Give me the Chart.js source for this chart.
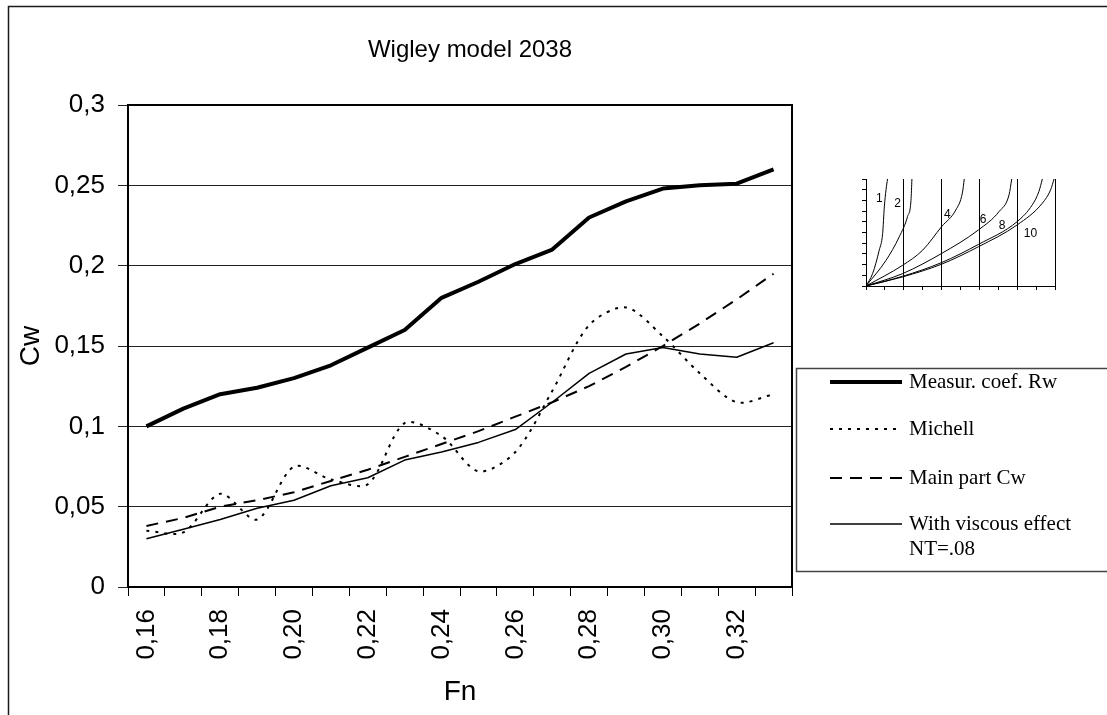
<!DOCTYPE html>
<html>
<head>
<meta charset="utf-8">
<title>Wigley model 2038</title>
<script src="https://cdn.jsdelivr.net/npm/chart.js@4.4.1/dist/chart.umd.min.js"></script>
<style>
  html, body { margin: 0; padding: 0; background: #fff; }
  #wrap { position: relative; width: 1107px; height: 715px; overflow: hidden; }
  #main { position: absolute; left: 0; top: 0; }
  #inset { position: absolute; left: 856px; top: 173px; }
</style>
</head>
<body>
<div id="wrap">
  <canvas id="main" width="1107" height="715"></canvas>
  <canvas id="inset" width="215" height="123"></canvas>
</div>
<script>
(() => {
  "use strict";

  /* ---------- data ---------- */
  const FN = ["0,16", "0,17", "0,18", "0,19", "0,20", "0,21", "0,22", "0,23", "0,24",
              "0,25", "0,26", "0,27", "0,28", "0,29", "0,30", "0,31", "0,32", "0,33"];
  const MEASURED = [0.100, 0.111, 0.120, 0.124, 0.130, 0.138, 0.149, 0.160, 0.180,
                    0.190, 0.201, 0.210, 0.230, 0.240, 0.248, 0.250, 0.251, 0.260];
  const MICHELL  = [0.035, 0.034, 0.058, 0.042, 0.075, 0.067, 0.064, 0.102, 0.094,
                    0.072, 0.084, 0.122, 0.163, 0.174, 0.156, 0.133, 0.115, 0.120];
  const MAIN_CW  = [0.038, 0.043, 0.050, 0.054, 0.059, 0.066, 0.073, 0.081, 0.089,
                    0.097, 0.106, 0.115, 0.125, 0.137, 0.150, 0.164, 0.179, 0.195];
  const VISCOUS  = [0.030, 0.036, 0.042, 0.049, 0.054, 0.063, 0.068, 0.079, 0.084,
                    0.090, 0.098, 0.115, 0.133, 0.145, 0.149, 0.145, 0.143, 0.152];
  const Y_TICKS = [0, 0.05, 0.1, 0.15, 0.2, 0.25, 0.3];

  // small waterline sketch, curves 1..10 in unit coordinates
  const CURVE_1  = [[0, 0], [0.035, 0.116], [0.07, 0.335], [0.088, 0.49], [0.097, 0.74], [0.106, 0.9], [0.114, 1]];
  const CURVE_2  = [[0, 0], [0.106, 0.24], [0.176, 0.46], [0.22, 0.65], [0.238, 0.8], [0.243, 1]];
  const CURVE_4  = [[0, 0], [0.194, 0.194], [0.3, 0.335], [0.4, 0.555], [0.475, 0.71], [0.51, 0.87], [0.52, 1]];
  const CURVE_6  = [[0, 0], [0.194, 0.116], [0.4, 0.304], [0.595, 0.524], [0.704, 0.696], [0.757, 0.853], [0.771, 1]];
  const CURVE_8  = [[0, 0], [0.194, 0.091], [0.4, 0.219], [0.595, 0.389], [0.8, 0.602], [0.88, 0.759], [0.915, 0.884], [0.933, 1]];
  const CURVE_10 = [[0, 0], [0.194, 0.085], [0.4, 0.204], [0.595, 0.367], [0.8, 0.571], [0.933, 0.774], [0.977, 0.9], [0.995, 1]];
  const CURVE_NAMES = ["1", "2", "4", "6", "8", "10"];
  const NAME_X = [0.07, 0.167, 0.43, 0.62, 0.72, 0.87];
  const NAME_Y = [0.82, 0.77, 0.665, 0.62, 0.56, 0.49];

  const SANS = "'Liberation Sans', Arial, sans-serif";
  const SERIF = "'Liberation Serif', 'Times New Roman', serif";

  /* ---------- plugins ---------- */
  const pageFrame = {
    id: "pageFrame",
    beforeDraw(chart) {
      const { ctx, width, height } = chart;
      ctx.save();
      ctx.fillStyle = "#fff";
      ctx.fillRect(0, 0, width, height);
      ctx.strokeStyle = "#1a1a1a";
      ctx.lineWidth = 1.5;
      ctx.beginPath();
      ctx.moveTo(8.5, height);
      ctx.lineTo(8.5, 6.5);
      ctx.lineTo(width, 6.5);
      ctx.stroke();
      ctx.fillStyle = "#000";
      ctx.font = `24px ${SANS}`;
      ctx.textAlign = "center";
      ctx.textBaseline = "middle";
      ctx.fillText("Wigley model 2038", 470, 50);
      ctx.restore();
    },
  };

  const plotBox = {
    id: "plotBox",
    afterDatasetsDraw(chart) {
      const { ctx, chartArea: a } = chart;
      ctx.save();
      ctx.strokeStyle = "#000";
      ctx.lineWidth = 2;
      ctx.strokeRect(a.left, a.top, a.right - a.left, a.bottom - a.top);
      ctx.restore();
    },
  };

  // legend box sits right of the plot, entries drawn with each dataset's own stroke
  const sideLegend = {
    id: "sideLegend",
    afterDraw(chart) {
      const { ctx } = chart;
      const rows = [382, 429, 478, 524];
      ctx.save();
      ctx.strokeStyle = "#444";
      ctx.lineWidth = 1.5;
      ctx.strokeRect(796.5, 368.5, 400, 203);
      ctx.font = `21px ${SERIF}`;
      ctx.fillStyle = "#000";
      ctx.textBaseline = "middle";
      chart.data.datasets.forEach((ds, i) => {
        const y = rows[i];
        ctx.strokeStyle = "#000";
        ctx.lineWidth = ds.borderWidth;
        ctx.setLineDash(ds.borderDash || []);
        ctx.beginPath();
        ctx.moveTo(830, y);
        ctx.lineTo(902, y);
        ctx.stroke();
        ctx.setLineDash([]);
        const lines = ds.label.split("\n");
        lines.forEach((t, k) => ctx.fillText(t, 909, y + k * 25));
      });
      ctx.restore();
    },
  };

  /* ---------- main chart ---------- */
  const series = (label, data, width, dash, tension = 0) => ({
    label, data, borderColor: "#000", borderWidth: width, borderDash: dash,
    pointRadius: 0, tension, fill: false, borderJoinStyle: "round",
  });

  new Chart(document.getElementById("main"), {
    type: "line",
    data: {
      labels: FN,
      datasets: [
        series("Measur. coef. Rw", MEASURED, 4, []),
        series("Michell", MICHELL, 2, [3, 6], 0.3),
        series("Main part Cw", MAIN_CW, 2, [12, 8]),
        series("With viscous effect\nNT=.08", VISCOUS, 1.5, []),
      ],
    },
    options: {
      responsive: false, animation: false,
      layout: { padding: { left: 0, top: 105, right: 315, bottom: 0 } },
      plugins: { legend: { display: false }, tooltip: { enabled: false }, title: { display: false } },
      scales: {
        x: {
          offset: true,
          afterFit: (s) => { s.height = 128; },
          grid: { offset: true, drawOnChartArea: false, tickLength: 9, color: "#000", lineWidth: 1 },
          border: { display: false },
          ticks: {
            autoSkip: false, minRotation: 90, maxRotation: 90, padding: 13,
            color: "#000", font: { family: SANS, size: 26 },
            callback: (v, i) => (i % 2 === 0 ? FN[i] : ""),
          },
          title: { display: true, text: "Fn", color: "#000", font: { family: SANS, size: 28 }, padding: { top: 0, bottom: 6 } },
        },
        y: {
          min: 0, max: 0.3,
          afterFit: (s) => { s.width = 128; },
          afterBuildTicks: (s) => { s.ticks = Y_TICKS.map((v) => ({ value: v })); },
          grid: { color: "#222", lineWidth: 1, tickLength: 10 },
          border: { display: false },
          ticks: {
            padding: 13, color: "#000", font: { family: SANS, size: 26 },
            callback: (v) => String(v).replace(".", ","),
          },
          title: { display: true, text: "Cw", color: "#000", font: { family: SANS, size: 28 }, padding: { top: 14, bottom: 0 } },
        },
      },
    },
    plugins: [pageFrame, plotBox, sideLegend],
  });

  /* ---------- inset sketch ---------- */
  const toXY = (pts) => pts.map(([x, y]) => ({ x, y }));
  const insetNames = {
    id: "insetNames",
    afterDatasetsDraw(chart) {
      const { ctx, scales: { x, y } } = chart;
      ctx.save();
      ctx.fillStyle = "#000";
      ctx.font = `12px ${SANS}`;
      ctx.textAlign = "center";
      ctx.textBaseline = "middle";
      CURVE_NAMES.forEach((n, i) => ctx.fillText(n, x.getPixelForValue(NAME_X[i]), y.getPixelForValue(NAME_Y[i])));
      ctx.restore();
    },
  };

  new Chart(document.getElementById("inset"), {
    type: "scatter",
    data: {
      datasets: [CURVE_1, CURVE_2, CURVE_4, CURVE_6, CURVE_8, CURVE_10].map((c) => ({
        data: toXY(c), showLine: true, borderColor: "#000", borderWidth: 1,
        pointRadius: 0, cubicInterpolationMode: "monotone", fill: false,
      })),
    },
    options: {
      responsive: false, animation: false,
      layout: { padding: { left: 0, top: 6, right: 16, bottom: 0 } },
      plugins: { legend: { display: false }, tooltip: { enabled: false } },
      scales: {
        x: {
          min: 0, max: 1,
          afterFit: (s) => { s.height = 10; },
          ticks: { display: false, stepSize: 0.1 },
          grid: {
            tickLength: 4, lineWidth: 1, tickColor: "#000",
            color: (c) => (c.index > 0 && c.index % 2 === 0 ? "#000" : "rgba(0,0,0,0)"),
          },
          border: { display: true, color: "#000", width: 1 },
        },
        y: {
          min: 0, max: 1,
          afterFit: (s) => { s.width = 10; },
          ticks: { display: false, stepSize: 0.1 },
          grid: { drawOnChartArea: false, tickLength: 4, color: "#000", lineWidth: 1 },
          border: { display: true, color: "#000", width: 1 },
        },
      },
    },
    plugins: [insetNames],
  });
})();
</script>
</body>
</html>
